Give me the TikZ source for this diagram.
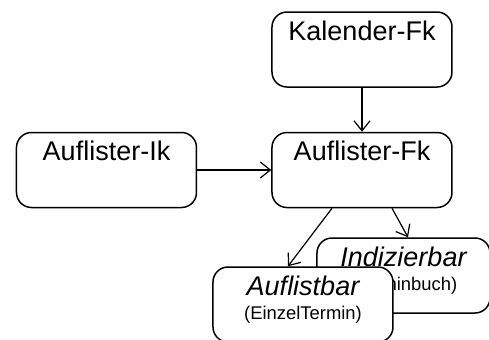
\documentclass[tikz,border=0pt]{standalone}
\usepackage{fontspec}
\setmainfont{Liberation Sans}
\usetikzlibrary{arrows.meta}
\tikzset{
  box/.style={draw, line width=0.75pt, rounded corners=7.5pt, fill=white,
    minimum width=90pt, minimum height=37.5pt, inner sep=0pt},
  title/.style={anchor=base, inner sep=0pt, font=\fontsize{13.5}{16}\selectfont},
  sub/.style={anchor=base, inner sep=0pt, font=\fontsize{9.2}{11}\selectfont},
  link/.style={line width=0.6pt, -{Straight Barb[length=5pt,width=8pt]}}
}
\begin{document}
\begin{tikzpicture}[x=0.5pt, y=-0.5pt]
  \clip (0,0) rectangle (489,339);
  \useasboundingbox (0,0) rectangle (489,339);

  % Draw the upper boxes
  \node[box] (kal) at (362, 49.5) {};
  \node[title] (kalT) at ([yshift=-14.5pt]kal.north) {Kalender-Fk};

  \node[box] (afk) at (362, 170) {};
  \node[title] (afkT) at ([yshift=-14.5pt]afk.north) {Auflister-Fk};

  \node[box] (aik) at (106.5, 170) {};
  \node[title] (aikT) at ([yshift=-14.5pt]aik.north) {Auflister-Ik};

  % Interfaces (the front one hides part of the back one)
  \node[box, minimum width=86.5pt] (idx) at (403.5, 275.5) {};
  \node[title] (idxT) at ([yshift=-14.5pt]idx.north) {\itshape Indizierbar};
  \node[sub] (idxS) at ([yshift=-26.5pt]idx.north) {(Terminbuch)};

  \node[box] (alb) at (303, 304.5) {};
  \node[title] (albT) at ([yshift=-14.75pt]alb.north) {\itshape Auflistbar};
  \node[sub] (albS) at ([yshift=-26.5pt]alb.north) {(EinzelTermin)};

  % Connections
  \draw[link] (kal.south) -- (afk.north);
  \draw[link] (aik.east) -- (afk.west);
  \draw[link] ([xshift=-15pt]afk.south) -- ([xshift=-7.5pt]alb.north);
  \draw[link] ([xshift=15pt]afk.south) -- ([xshift=2.25pt]idx.north);
\end{tikzpicture}
\end{document}
